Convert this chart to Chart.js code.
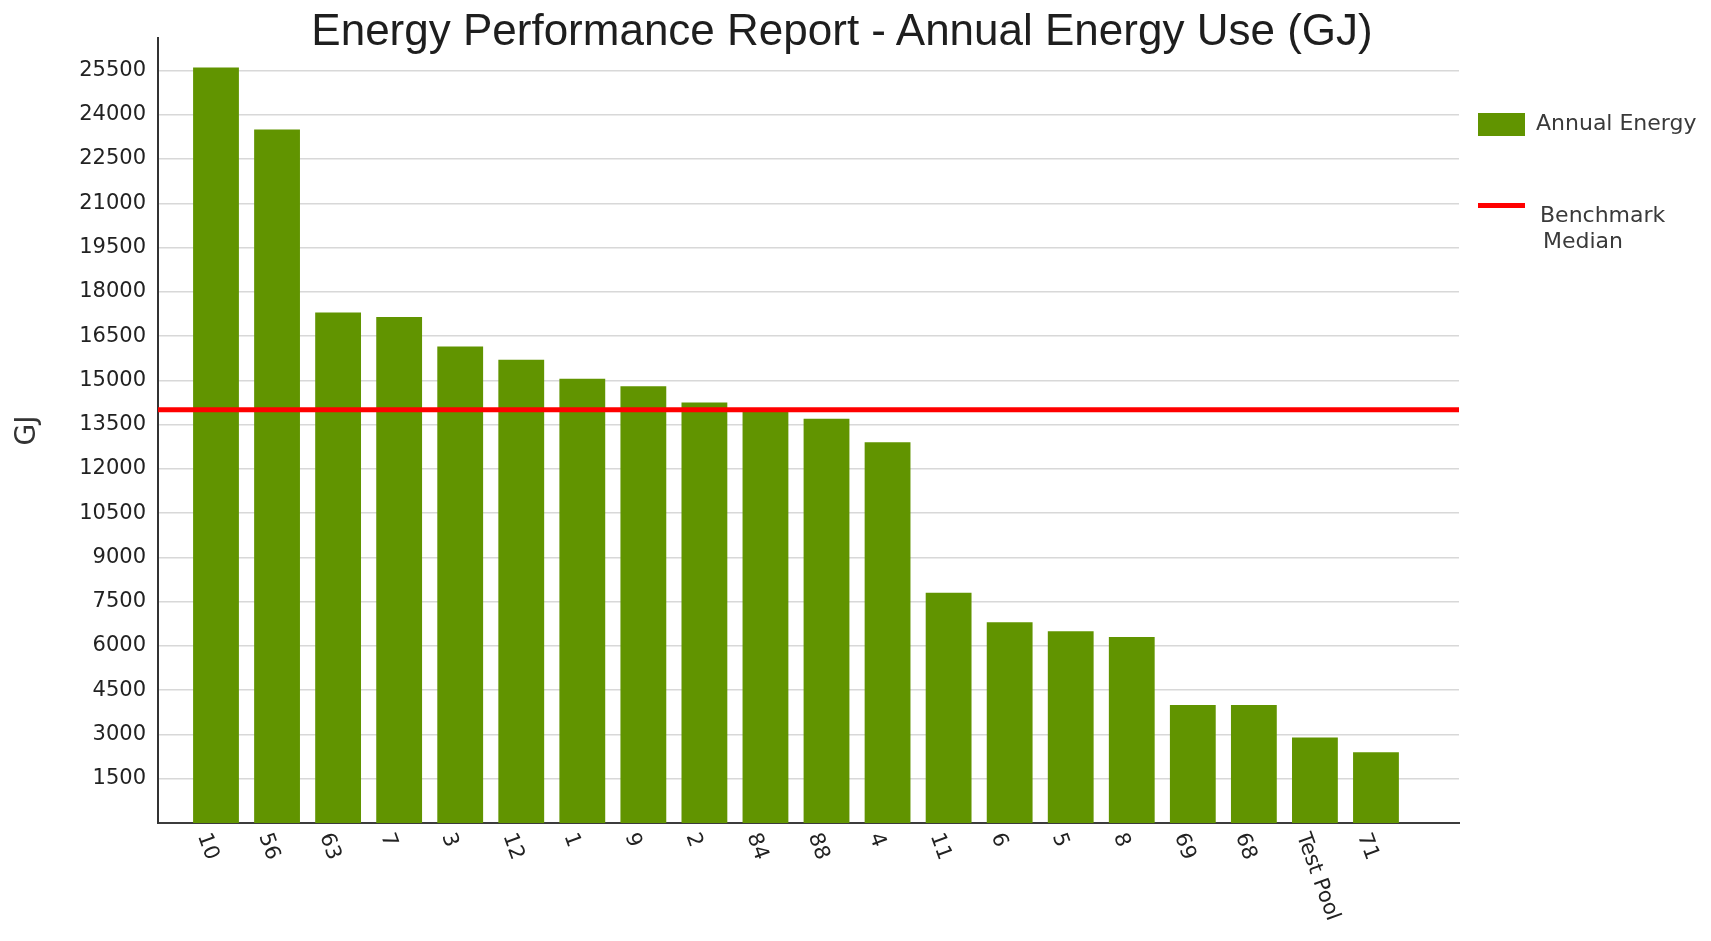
<!DOCTYPE html>
<html>
<head>
<meta charset="utf-8">
<title>Energy Performance Report</title>
<script src="https://cdn.jsdelivr.net/npm/chart.js@4/dist/chart.umd.min.js"></script>
<style>
    body { margin: 0; background: #fff; overflow: hidden; }
    #wrap { position: relative; width: 1711px; height: 941px; }
    #chartTitle {
        position: absolute; left: 242px; top: 4px; width: 1200px;
        text-align: center; font: 44px/52px 'Liberation Sans', Arial, sans-serif; color: #1e1e1e;
    }
    .legend-swatch { position: absolute; left: 1478px; width: 47px; }
    .legend-text {
        position: absolute; left: 1536px;
        font: 22px/26px 'DejaVu Sans', sans-serif; color: #3a3a3a; white-space: nowrap;
    }
</style>
</head>
<body>
<div id="wrap">
    <canvas id="energyChart" width="1711" height="941"></canvas>
    <div id="chartTitle">Energy Performance Report - Annual Energy Use (GJ)</div>
    <div class="legend-swatch" style="top:113px;height:23px;background:#619400"></div>
    <div class="legend-text" style="top:110px">Annual Energy</div>
    <div class="legend-swatch" style="top:203px;height:5px;background:#ff0000"></div>
    <div class="legend-text" style="top:202px;left:1540px">Benchmark<br><span style="margin-left:3px">Median</span></div>
</div>
<script>
// ---- dados ----
const sites = ['10', '56', '63', '7', '3', '12', '1', '9', '2', '84', '88', '4', '11', '6', '5', '8', '69', '68', 'Test Pool', '71'];
const annualEnergy = [25600, 23500, 17300, 17150, 16150, 15700, 15050, 14800, 14250, 13950, 13700, 12900, 7800, 6800, 6500, 6300, 4000, 4000, 2900, 2400];
const benchmarkMedian = 14000;
const yTickValues = [1500, 3000, 4500, 6000, 7500, 9000, 10500, 12000, 13500, 15000, 16500, 18000, 19500, 21000, 22500, 24000, 25500];

// x range (index axis), leaves a gap before the first and after the last bar
const X_MIN = -0.95;
const X_MAX = 20.36;

Chart.defaults.font.family = "'DejaVu Sans', sans-serif";
Chart.defaults.color = '#222';

// rotated site labels under the axis (clockwise, reading downwards)
const siteLabelsPlugin = {
    id: 'siteLabels',
    afterDraw(chart) {
        const { ctx, chartArea } = chart;
        const xScale = chart.scales.x;
        ctx.save();
        ctx.font = "21px 'DejaVu Sans'";
        ctx.fillStyle = '#222';
        ctx.textAlign = 'left';
        ctx.textBaseline = 'middle';
        sites.forEach((label, i) => {
            ctx.save();
            ctx.translate(xScale.getPixelForValue(i) - 13, chartArea.bottom + 11);
            ctx.rotate(70 * Math.PI / 180);
            ctx.fillText(label, 0, 0);
            ctx.restore();
        });
        ctx.restore();
    }
};

const ctx = document.getElementById('energyChart').getContext('2d');
new Chart(ctx, {
    type: 'bar',
    data: {
        datasets: [
            {
                type: 'line',
                label: 'Benchmark Median',
                data: [{ x: X_MIN, y: benchmarkMedian }, { x: X_MAX, y: benchmarkMedian }],
                borderColor: '#ff0000',
                borderWidth: 5,
                pointRadius: 0,
                order: 0
            },
            {
                label: 'Annual Energy',
                data: annualEnergy.map((v, i) => ({ x: i, y: v })),
                backgroundColor: '#619400',
                borderWidth: 0,
                categoryPercentage: 1,
                barPercentage: 0.79,
                order: 1
            }
        ]
    },
    options: {
        responsive: false,
        animation: false,
        layout: { padding: { left: 7, right: 252, top: 38, bottom: 118 } },
        plugins: {
            legend: { display: false },
            title: { display: false },
            tooltip: { enabled: false }
        },
        scales: {
            x: {
                type: 'linear',
                min: X_MIN,
                max: X_MAX,
                offset: false,
                ticks: { display: false },
                grid: { display: false, offset: false, drawTicks: false },
                border: { display: true, color: '#3c3c3c', width: 2 }
            },
            y: {
                min: 0,
                max: 26600,
                afterBuildTicks: (scale) => {
                    scale.ticks = yTickValues.map(v => ({ value: v }));
                },
                afterFit: (scale) => { scale.width = 151; },
                ticks: {
                    autoSkip: false,
                    padding: 12,
                    font: { size: 21 },
                    color: '#222',
                    callback: (v) => String(v)
                },
                grid: { color: '#d8d8d8', lineWidth: 1.5, drawTicks: false },
                border: { display: true, color: '#333', width: 2 },
                title: {
                    display: true,
                    text: 'GJ',
                    font: { size: 28 },
                    color: '#333',
                    padding: { top: 4, bottom: 0 }
                }
            }
        }
    },
    plugins: [siteLabelsPlugin]
});
</script>
</body>
</html>
